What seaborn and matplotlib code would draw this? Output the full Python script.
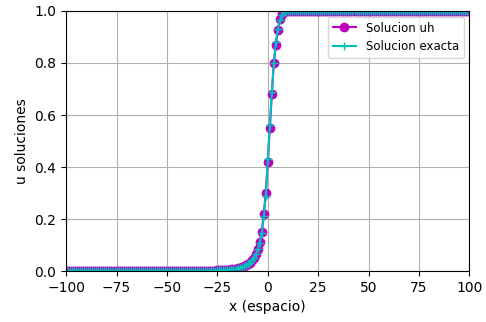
import numpy as np
import pandas as pd
import matplotlib
matplotlib.use("Agg")
import matplotlib.pyplot as plt
import seaborn as sns

# ---- data ----
x_grid = np.arange(-100, 101, 1)  # spatial grid, step 1

uh_left_plateau = [0.0] * 70          # x = -100 .. -31
uh_transition = [0.001, 0.0012, 0.0015, 0.0018, 0.002, 0.0025, 0.003, 0.0035, 0.004, 0.0045,
                 0.005, 0.006, 0.007, 0.008, 0.009, 0.011, 0.013, 0.015, 0.018, 0.022,
                 0.027, 0.033, 0.041, 0.051, 0.066, 0.086, 0.113, 0.15, 0.22, 0.30,
                 0.42, 0.55, 0.68, 0.80, 0.87, 0.925, 0.97, 0.99, 1.0]   # x = -30 .. 8
uh_right_plateau = [1.0] * 92           # x = 9 .. 100

ex_left_plateau = [0.0] * 70
ex_transition = [0.001, 0.0012, 0.0015, 0.0018, 0.002, 0.0025, 0.003, 0.0035, 0.004, 0.0045,
                 0.005, 0.006, 0.007, 0.008, 0.009, 0.011, 0.013, 0.015, 0.018, 0.022,
                 0.027, 0.033, 0.041, 0.052, 0.065, 0.085, 0.11, 0.145, 0.21, 0.29,
                 0.43, 0.56, 0.69, 0.80, 0.88, 0.93, 0.965, 0.985, 0.995]
ex_right_plateau = [1.0] * 92

uh = uh_left_plateau + uh_transition + uh_right_plateau
exact = ex_left_plateau + ex_transition + ex_right_plateau

df = pd.DataFrame({"x": x_grid, "uh": uh, "exact": exact})

# ---- figure ----
fig = plt.figure(figsize=(4.86, 3.22), dpi=100)
ax = fig.add_axes([0.136, 0.158, 0.830, 0.808])

sns.lineplot(data=df, x="x", y="uh", ax=ax, color="m", marker="o", markersize=6,
             markeredgecolor="m", markeredgewidth=1, linewidth=1.5, label="Solucion uh")
sns.lineplot(data=df, x="x", y="exact", ax=ax, color="c", marker="+", markersize=6,
             markeredgecolor="c", markeredgewidth=1, linewidth=1.5, label="Solucion exacta")

ax.set_xlim(-100, 100)
ax.set_ylim(0, 1)
ax.set_xticks([-100, -75, -50, -25, 0, 25, 50, 75, 100])
ax.set_yticks([0.0, 0.2, 0.4, 0.6, 0.8, 1.0])
ax.grid(True, color="#b0b0b0", linewidth=0.8)
ax.set_xlabel("x (espacio)", fontsize=10)
ax.set_ylabel("u soluciones", fontsize=10)
ax.tick_params(labelsize=10)
ax.legend(loc="upper right", fontsize=8.5)

fig.savefig("out.png", dpi=100)
